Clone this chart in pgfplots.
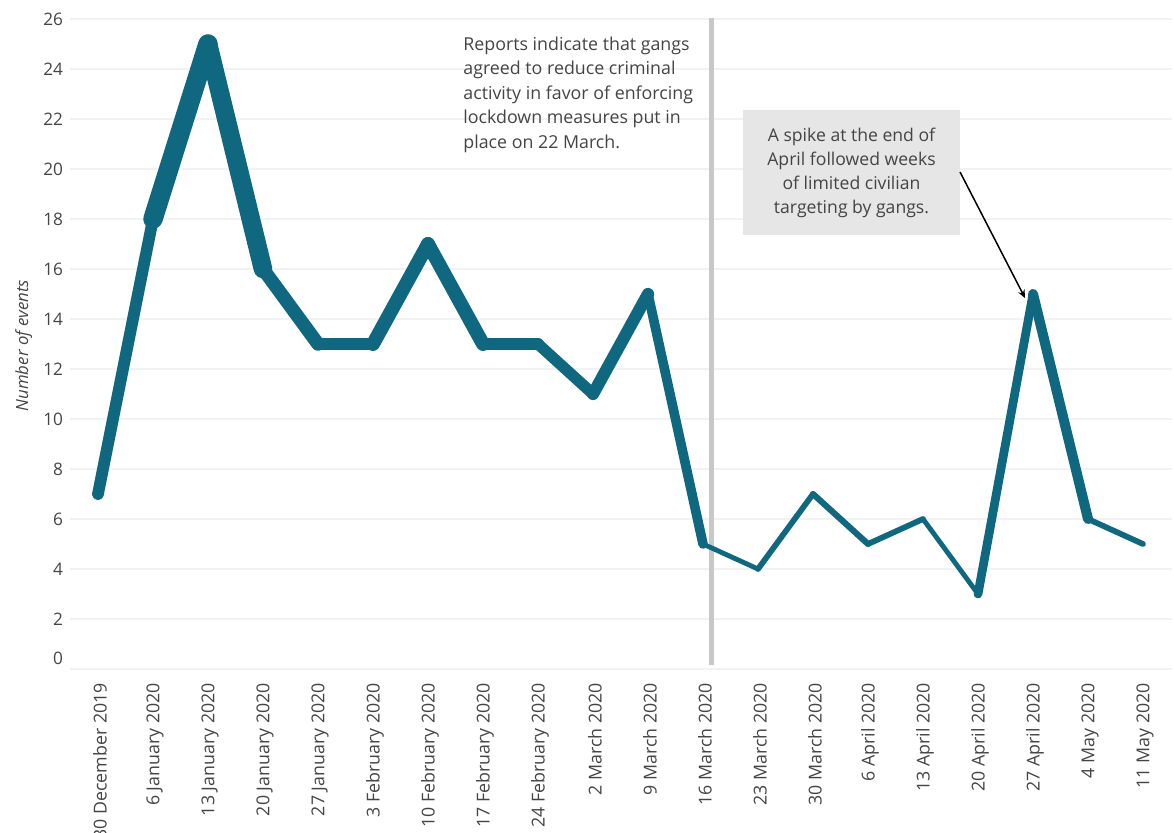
\documentclass[border=0pt]{standalone}
\usepackage{fontspec}
\setmainfont{Open Sans}
\usepackage{pgfplots}
\pgfplotsset{compat=1.18}
\usetikzlibrary{arrows.meta}
\definecolor{teal1}{RGB}{16,104,128}
\definecolor{gridc}{RGB}{242,242,242}
\definecolor{txt}{RGB}{68,68,68}
\definecolor{vline}{RGB}{200,200,200}
\definecolor{boxc}{RGB}{230,230,230}
\begin{document}
\begin{tikzpicture}
\useasboundingbox (-35pt,-81.5pt) rectangle (552pt,334.5pt);
\begin{axis}[
  scale only axis,
  width=551pt, height=330pt,
  xmin=-0.509, xmax=19.527,
  ymin=0, ymax=26.4,
  axis line style={draw=none},
  tick style={draw=none},
  ytick={2,4,...,26},
  extra y ticks={0},
  extra y tick style={grid=major, yticklabel style={yshift=5.5pt}},
  ymajorgrids,
  major grid style={gridc, line width=0.6pt},
  xtick={0,...,19},
  xticklabels={30 December 2019,6 January 2020,13 January 2020,20 January 2020,27 January 2020,3 February 2020,10 February 2020,17 February 2020,24 February 2020,2 March 2020,9 March 2020,16 March 2020,23 March 2020,30 March 2020,6 April 2020,13 April 2020,20 April 2020,27 April 2020,4 May 2020,11 May 2020},
  xticklabel style={rotate=90, anchor=east, font=\fontsize{8.9}{11}\selectfont, text=txt, xshift=-3.5pt, yshift=-1pt},
  yticklabel style={font=\fontsize{8.6}{10}\selectfont, text=txt},
  /pgf/number format/assume math mode=true,
  ylabel={Number of events},
  ylabel style={font=\fontsize{8.4}{10}\selectfont\itshape, text=txt, at={(axis description cs:-0.042,0.49)}, anchor=center},
  clip=false,
  every axis plot/.append style={teal1, line cap=round, line join=round},
]
\draw[vline, line width=2.5pt] (axis cs:11.16,0.15) -- (axis cs:11.16,26.05);
\addplot[line width=5.88pt] coordinates {(0,7)(1,18)};
\addplot[line width=9.75pt] coordinates {(1,18)(2,25)};
\addplot[line width=9.32pt] coordinates {(2,25)(3,16)};
\addplot[line width=6.74pt] coordinates {(3,16)(4,13)};
\addplot[line width=6.09pt] coordinates {(4,13)(5,13)};
\addplot[line width=6.95pt] coordinates {(5,13)(6,17)};
\addplot[line width=6.95pt] coordinates {(6,17)(7,13)};
\addplot[line width=6.09pt] coordinates {(7,13)(8,13)};
\addplot[line width=5.66pt] coordinates {(8,13)(9,11)};
\addplot[line width=6.09pt] coordinates {(9,11)(10,15)};
\addplot[line width=4.80pt] coordinates {(10,15)(11,5)};
\addplot[line width=2.44pt] coordinates {(11,5)(12,4)};
\addplot[line width=2.87pt] coordinates {(12,4)(13,7)};
\addplot[line width=3.08pt] coordinates {(13,7)(14,5)};
\addplot[line width=2.87pt] coordinates {(14,5)(15,6)};
\addplot[line width=2.44pt] coordinates {(15,6)(16,3)};
\addplot[line width=4.37pt] coordinates {(16,3)(17,15)};
\addplot[line width=5.02pt] coordinates {(17,15)(18,6)};
\addplot[line width=2.87pt] coordinates {(18,6)(19,5)};
\node[anchor=north west, align=left, text=txt, inner sep=0pt,
  font=\fontsize{8.9}{12.25}\selectfont] at (axis cs:6.636,25.3)
  {Reports indicate that gangs\\agreed to reduce criminal\\activity in favor of enforcing\\lockdown measures put in\\place on 22 March.};
\node[fill=boxc, text=txt, align=center, minimum width=108.5pt, minimum height=62.5pt, inner sep=0pt,
  font=\fontsize{8.8}{12}\selectfont] at (axis cs:13.7,19.86)
  {A spike at the end of\\April followed weeks\\of limited civilian\\targeting by gangs.};
\draw[black, line width=0.75pt, -{Stealth[length=4pt,width=3.5pt]}] (axis cs:15.673,19.88) -- (axis cs:16.855,14.84);
\end{axis}
\end{tikzpicture}
\end{document}
